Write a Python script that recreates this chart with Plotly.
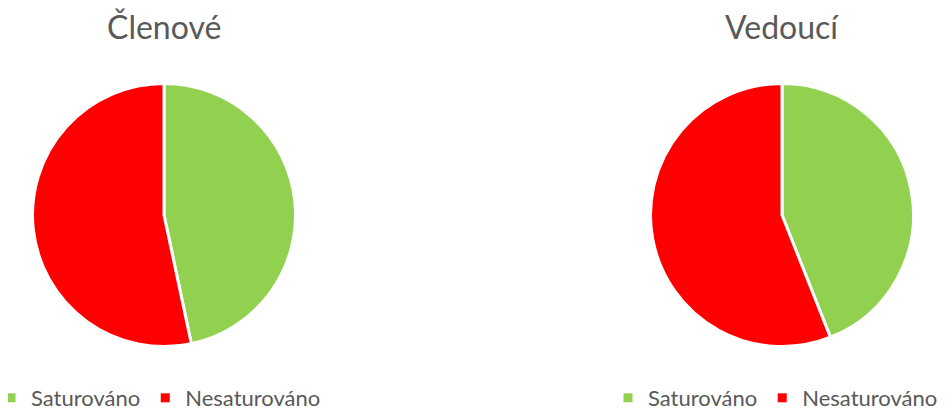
import plotly.graph_objects as go

labels = ["Saturováno", "Nesaturováno"]
clenove = [7, 8]
vedouci = [11, 14]
titles = ["Členové", "Vedoucí"]
colors = ["#92D050", "#FF0000"]

W, H = 950, 412
OFF = 8  # page body margin offset
FONT = "Lato"

def dom(cx, cy, r):
    cx -= OFF
    cy -= OFF
    return dict(x=[(cx - r) / W, (cx + r) / W], y=[1 - (cy + r) / H, 1 - (cy - r) / H])

fig = go.Figure()
for vals, cx in zip([clenove, vedouci], [164, 782]):
    fig.add_trace(go.Pie(labels=labels, values=vals, sort=False, direction="clockwise",
                         rotation=0, textinfo="none", hoverinfo="label+value+percent",
                         marker=dict(colors=colors, line=dict(color="white", width=3)),
                         domain=dom(cx, 215, 131.5), showlegend=False))

# legend entries (one legend below each pie)
for lg in ["legend", "legend2"]:
    for lab, col in zip(labels, colors):
        fig.add_trace(go.Scatter(x=[None], y=[None], mode="markers", name=lab,
                                 marker=dict(symbol="square", size=9, color=col),
                                 legend=lg, showlegend=True, hoverinfo="skip"))

for t, cx in zip(titles, [164, 782]):
    fig.add_annotation(text=t, x=(cx - OFF) / W, y=1 - (27 - OFF) / H, xref="paper", yref="paper",
                       xanchor="center", yanchor="middle",
                       showarrow=False, font=dict(family=FONT, size=32, color="#595959"))

leg = dict(orientation="h", yanchor="middle", y=1 - (398 - OFF) / H, xanchor="left",
           font=dict(family=FONT, size=22, color="#595959"), bgcolor="rgba(0,0,0,0)")
fig.update_layout(
    width=W, height=H, margin=dict(l=0, r=0, t=0, b=0, autoexpand=False),
    paper_bgcolor="white", plot_bgcolor="white",
    xaxis=dict(visible=False), yaxis=dict(visible=False),
    legend=dict(leg, x=-17 / W),
    legend2=dict(leg, x=600 / W),
)
fig.write_html("out.html")
